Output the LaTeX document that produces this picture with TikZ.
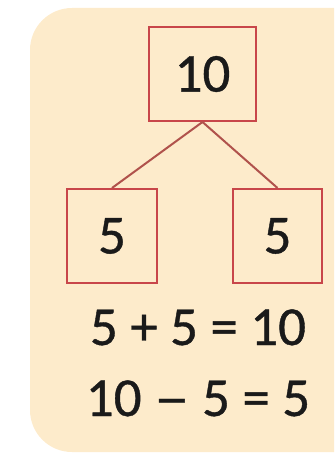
\documentclass[tikz,border=0pt]{standalone}
\usepackage{fontspec}
\setmainfont{Carlito}
\newfontfamily\numfont{Carlito}[FakeBold=0.7]
\definecolor{peach}{HTML}{FDEBCB}
\definecolor{boxred}{HTML}{C8464A}
\definecolor{linered}{HTML}{B0524C}
\definecolor{ink}{HTML}{1A1A1A}
\begin{document}
\begin{tikzpicture}[x=1pt,y=-1pt,
    numbox/.style={draw=boxred,line width=2pt,minimum height=94pt,minimum width=90pt,inner sep=0pt,text=ink,font=\numfont\fontsize{55}{66}\selectfont},
    eqline/.style={anchor=base,inner sep=0pt,text=ink,font=\numfont\fontsize{55}{66}\selectfont}]
    \useasboundingbox (0,0) rectangle (334,454);
    \clip (0,0) rectangle (334,454);
    \fill[peach,rounded corners=42pt] (30,8) rectangle (380,452);
    \node[numbox,minimum width=107pt] (top) at (202.5,74) {10};
    \node[numbox] (left) at (112,236) {5};
    \node[numbox,minimum width=89pt] (right) at (277.5,236) {5};
    \draw[linered,line width=2pt] (top.south) -- (left.north);
    \draw[linered,line width=2pt] (top.south) -- (right.north);
    \node[eqline] (eqsum) at (198,345) {5 + 5 = 10};
    \node[eqline] (eqdiff) at (198,416) {10 \scalebox{1.3}[1]{–} 5 = 5};
\end{tikzpicture}
\end{document}
